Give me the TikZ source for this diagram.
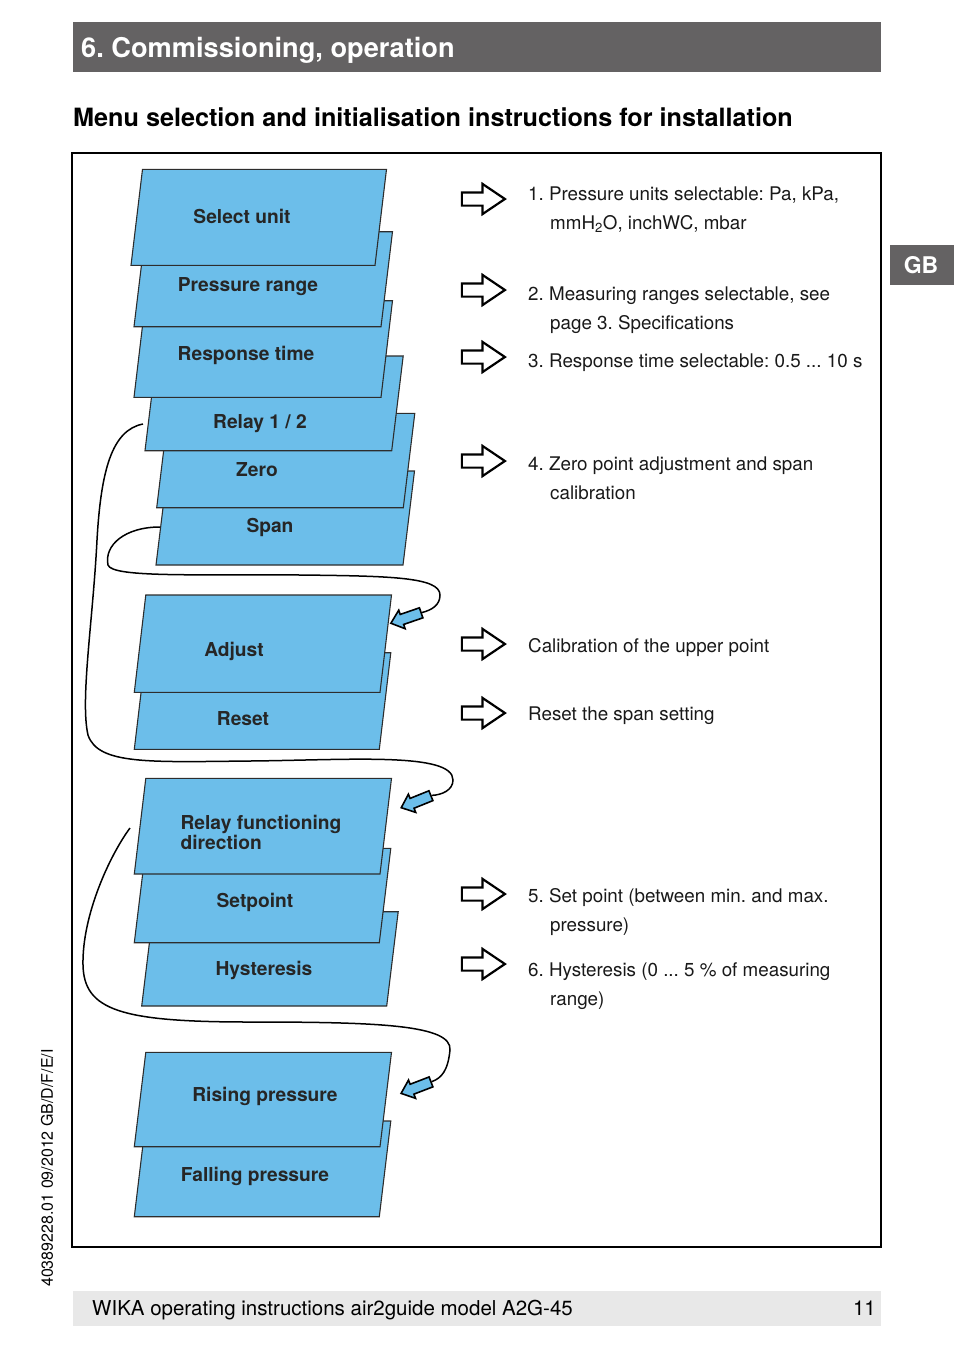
\documentclass[tikz,border=0pt]{standalone}
\usepackage{fontspec}
\setmainfont{TeX Gyre Heros}
\usetikzlibrary{shapes.arrows}
\frenchspacing

\definecolor{headgray}{RGB}{100,98,99}
\definecolor{footgray}{RGB}{232,232,232}
\definecolor{menublue}{RGB}{108,190,234}
\definecolor{boxline}{RGB}{45,45,45}

% bottom-left x, bottom y, width, height
\newcommand{\menubox}[4]{%
  \filldraw[menubox] (#1,#2) -- ++(#3,0) -- ++(11.5,-#4) -- ++(-#3,0) -- cycle;}

\begin{document}
\begin{tikzpicture}[x=1pt,y=-1pt,
  menubox/.style={fill=menublue,draw=boxline,line width=1.1pt},
  boxtext/.style={font=\fontsize{19.2}{20}\selectfont\bfseries,text=black!85,align=left},
  note/.style={anchor=base west,inner sep=0pt,font=\fontsize{18.8}{22}\selectfont,text=black!90},
  hollow/.style={single arrow,draw=black,line width=2.2pt,fill=white,inner xsep=0pt,inner ysep=5.5pt,
    minimum height=43pt,single arrow head extend=8.5pt,single arrow tip angle=68},
  pointer/.style={single arrow,draw=black,line width=1.6pt,fill=menublue,inner xsep=0pt,inner ysep=4.5pt,
    minimum height=32pt,single arrow head extend=4.5pt,single arrow tip angle=80},
  swing/.style={line width=1.5pt}]
\useasboundingbox (0,0) rectangle (954,1345);

% page head and foot
\fill[headgray] (73,22) rectangle (881,72);
\node[anchor=base west,inner sep=0pt,text=white,font=\fontsize{27.2}{30}\selectfont\bfseries] (title) at (81,57.5) {6. Commissioning, operation};
\node[anchor=base west,inner sep=0pt,font=\fontsize{25.2}{28}\selectfont\bfseries] (subtitle) at (73,126) {Menu selection and initialisation instructions for installation};
\draw[line width=1.5pt] (72,153) rectangle (881,1247);
\fill[headgray] (890,245) rectangle (954,285);
\node[text=white,font=\fontsize{23}{26}\selectfont\bfseries] (gb) at (921,265) {GB};
\node[rotate=90,anchor=west,inner sep=0pt,font=\fontsize{16}{18}\selectfont] (docno) at (47,1287) {40389228.01 09/2012 GB/D/F/E/I};
\fill[footgray] (73,1291) rectangle (881,1326);
\node[anchor=base west,inner sep=0pt,font=\fontsize{20.5}{24}\selectfont] (footer) at (92,1315) {WIKA operating instructions air2guide model A2G-45};
\node[anchor=base east,inner sep=0pt,font=\fontsize{20.5}{24}\selectfont] (pageno) at (876,1315) {11};

% menu stack, back to front
\menubox{156}{565}{247}{94}
\menubox{156.7}{507.7}{246.6}{94.4}
\menubox{145}{450.7}{246.7}{94.7}
\menubox{134}{397.3}{247}{96.6}
\menubox{134}{326.7}{247}{95}
\menubox{131}{265.3}{244}{96}
\menubox{134.3}{749.3}{245}{96.6}
\menubox{134.3}{692.3}{245.7}{97.3}
\menubox{141.7}{1006}{245}{94.3}
\menubox{134.3}{942.7}{245}{94.4}
\menubox{134.3}{874}{245.7}{95.7}
\menubox{134.3}{1216.7}{245}{95.7}
\menubox{134.3}{1146.7}{245.7}{94.4}

\node[boxtext] (select) at (242,216) {Select unit};
\node[boxtext] (range) at (248,287) {Pressure range};
\node[boxtext] (response) at (246,355) {Response time};
\node[boxtext] (relay) at (260,424) {Relay 1 / 2};
\node[boxtext] (zero) at (257,470) {Zero};
\node[boxtext] (span) at (270,527) {Span};
\node[boxtext] (adjust) at (234,651) {Adjust};
\node[boxtext] (reset) at (243,719) {Reset};
\node[boxtext] (direction) at (261,832) {Relay functioning\\direction};
\node[boxtext] (setpoint) at (255,902) {Setpoint};
\node[boxtext] (hyst) at (264,970) {Hysteresis};
\node[boxtext] (rising) at (265,1096) {Rising pressure};
\node[boxtext] (falling) at (255,1176) {Falling pressure};

% loops back into the stack
\coordinate (spanL) at (160,527);
\coordinate (relayL) at (143,424);
\coordinate (directionL) at (130,828);
\node[pointer,rotate=199] (pA) at (409,617) {};
\node[pointer,rotate=202] (pB) at (419,800.5) {};
\node[pointer,rotate=201] (pC) at (419,1086.5) {};

\draw[swing] (spanL) .. controls (125,527) and (104,545) .. (108,565)
  .. controls (112,578) and (200,574) .. (300,575)
  .. controls (390,576) and (440,577) .. (440,595)
  .. controls (440,605) and (432,610) .. (pA.west);
\draw[swing] (relayL) .. controls (112,430) and (101,470) .. (97,540)
  .. controls (93,620) and (80,700) .. (88,735)
  .. controls (98,765) and (150,762) .. (250,761)
  .. controls (350,760) and (453,752) .. (453,780)
  .. controls (453,790) and (442,795) .. (pB.west);
\draw[swing] (directionL) .. controls (110,855) and (82,915) .. (83,965)
  .. controls (84,1010) and (120,1022) .. (250,1022)
  .. controls (380,1022) and (452,1025) .. (450,1050)
  .. controls (448,1070) and (442,1078) .. (pC.west);

% explanations
\foreach \n/\y in {a1/199,a2/290,a3/357,a4/461,a5/644,a6/713,a7/894,a8/964}
  \node[hollow] (\n) at (478.5,\y) {};

\node[note] (n1) at (528,200) {1. Pressure units selectable: Pa, kPa,};
\node[note] (n1b) at (550,229) {mmH\textsubscript{2}O, inchWC, mbar};
\node[note] (n2) at (528,300) {2. Measuring ranges selectable, see};
\node[note] (n2b) at (550,329) {page 3. Specifications};
\node[note] (n3) at (528,367) {3. Response time selectable: 0.5 ... 10 s};
\node[note] (n4) at (528,470) {4. Zero point adjustment and span};
\node[note] (n4b) at (550,499) {calibration};
\node[note] (n5) at (528,652) {Calibration of the upper point};
\node[note] (n6) at (528,720) {Reset the span setting};
\node[note] (n7) at (528,902) {5. Set point (between min. and max.};
\node[note] (n7b) at (550,931) {pressure)};
\node[note] (n8) at (528,976) {6. Hysteresis (0 ... 5 \% of measuring};
\node[note] (n8b) at (550,1005) {range)};
\end{tikzpicture}
\end{document}
